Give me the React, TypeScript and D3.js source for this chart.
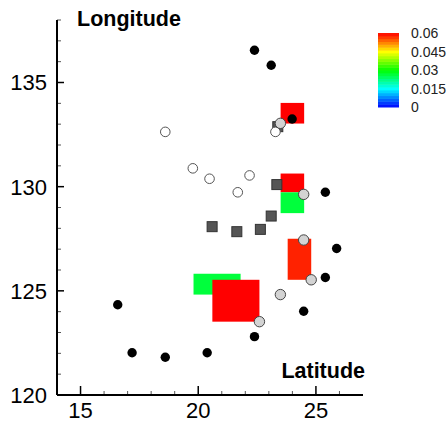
import { useEffect, useRef } from "react";
import * as d3 from "d3";

// marker data: [latitude, longitude]
const blackDots: [number, number][] = [
  [22.39, 136.55], [23.1, 135.83], [23.99, 133.25], [25.4, 129.73], [25.88, 127.03],
  [25.4, 125.64], [24.48, 124.02], [22.39, 122.8], [16.58, 124.33], [17.19, 122.03],
  [18.6, 121.81], [20.38, 122.03],
];
const openDots: [number, number][] = [
  [18.6, 132.63], [19.77, 130.88], [20.48, 130.38], [22.18, 130.54], [21.68, 129.73], [23.28, 132.63],
];
const grayDots: [number, number][] = [
  [23.49, 133.04], [24.48, 129.63], [24.48, 127.44], [24.8, 125.53], [23.49, 124.82], [22.6, 123.52],
];
const squares: [number, number][] = [
  [23.38, 132.88], [23.34, 130.1], [23.1, 128.59], [20.59, 128.08], [21.64, 127.84], [22.64, 127.95],
];
// colored cells: lat range, lon range, value
const cellLat: [number, number][] = [[23.5, 24.5], [23.5, 24.5], [23.5, 24.5], [23.8, 24.8], [19.8, 21.8], [20.6, 22.6]];
const cellLon: [number, number][] = [[133.03, 134.02], [129.73, 130.63], [128.73, 129.73], [125.53, 127.5], [124.82, 125.82], [123.52, 125.53]];
const cellValue = [0.06, 0.06, 0.0265, 0.058, 0.0265, 0.06];

const xTicks = [15, 20, 25];
const yTicks = [120, 125, 130, 135];
const legendTicks = [0, 0.015, 0.03, 0.045, 0.06];

const FONT = "Liberation Sans, Arial, Helvetica, sans-serif";

const App = () => {
  const ref = useRef<SVGSVGElement>(null);

  useEffect(() => {
    const svg = d3.select(ref.current);
    svg.selectAll("*").remove();

    const x = d3.scaleLinear().domain([14, 27]).range([57, 363]);
    const y = d3.scaleLinear().domain([120, 138]).range([395, 20]);

    const color = d3.scaleLinear<string>()
      .domain([0, 0.015, 0.03, 0.045, 0.06])
      .range(["#0000ff", "#00ffff", "#00ff00", "#ffff00", "#ff0000"]);

    // colored cells
    svg.append("g")
      .selectAll("rect")
      .data(cellValue.map((v, i) => ({ v, lat: cellLat[i], lon: cellLon[i] })))
      .enter()
      .append("rect")
      .attr("x", d => x(d.lat[0]))
      .attr("y", d => y(d.lon[1]))
      .attr("width", d => x(d.lat[1]) - x(d.lat[0]))
      .attr("height", d => y(d.lon[0]) - y(d.lon[1]))
      .attr("fill", d => color(d.v));

    svg.append("g")
      .selectAll("rect")
      .data(squares)
      .enter()
      .append("rect")
      .attr("x", d => x(d[0]) - 5)
      .attr("y", d => y(d[1]) - 5)
      .attr("width", 10)
      .attr("height", 10)
      .attr("fill", "#555555")
      .attr("stroke", "#333333")
      .attr("stroke-width", 1);

    svg.append("g")
      .selectAll("circle")
      .data(blackDots)
      .enter()
      .append("circle")
      .attr("cx", d => x(d[0]))
      .attr("cy", d => y(d[1]))
      .attr("r", 4.7)
      .attr("fill", "#000");

    svg.append("g")
      .selectAll("circle")
      .data(openDots)
      .enter()
      .append("circle")
      .attr("cx", d => x(d[0]))
      .attr("cy", d => y(d[1]))
      .attr("r", 4.8)
      .attr("fill", "#fff")
      .attr("stroke", "#555")
      .attr("stroke-width", 1);

    svg.append("g")
      .selectAll("circle")
      .data(grayDots)
      .enter()
      .append("circle")
      .attr("cx", d => x(d[0]))
      .attr("cy", d => y(d[1]))
      .attr("r", 5.2)
      .attr("fill", "#d3d3d3")
      .attr("stroke", "#444")
      .attr("stroke-width", 1);

    // axes
    const xAxis = svg.append("g").attr("transform", "translate(0,395)");
    xAxis.selectAll("line.minor")
      .data(d3.range(15, 27))
      .enter()
      .append("line")
      .attr("x1", d => x(d)).attr("x2", d => x(d))
      .attr("y1", 0).attr("y2", d => (xTicks.includes(d) ? -9 : -4))
      .attr("stroke", d => (xTicks.includes(d) ? "#000" : "#555"))
      .attr("stroke-width", d => (xTicks.includes(d) ? 1.5 : 1));
    xAxis.append("line")
      .attr("x1", x(14)).attr("x2", x(27))
      .attr("stroke", "#000").attr("stroke-width", 2);
    xAxis.selectAll("text")
      .data(xTicks)
      .enter()
      .append("text")
      .attr("x", d => x(d))
      .attr("y", 23)
      .attr("text-anchor", "middle")
      .style("font-family", FONT)
      .style("font-size", "22px")
      .text(d => d);

    const yAxis = svg.append("g").attr("transform", "translate(57,0)");
    yAxis.selectAll("line.minor")
      .data(d3.range(121, 139))
      .enter()
      .append("line")
      .attr("y1", d => y(d)).attr("y2", d => y(d))
      .attr("x1", 0).attr("x2", d => (yTicks.includes(d) ? 7 : 4))
      .attr("stroke", d => (yTicks.includes(d) ? "#000" : "#555"))
      .attr("stroke-width", d => (yTicks.includes(d) ? 1.5 : 1));
    yAxis.append("line")
      .attr("y1", y(120)).attr("y2", y(138))
      .attr("stroke", "#000").attr("stroke-width", 2);
    yAxis.selectAll("text")
      .data(yTicks)
      .enter()
      .append("text")
      .attr("x", -10)
      .attr("y", d => y(d))
      .attr("dy", "0.36em")
      .attr("text-anchor", "end")
      .style("font-family", FONT)
      .style("font-size", "22px")
      .text(d => d);

    svg.append("text")
      .attr("x", 77).attr("y", 26)
      .style("font-family", FONT).style("font-size", "21.5px").style("font-weight", "bold")
      .text("Longitude");
    svg.append("text")
      .attr("x", 365).attr("y", 378)
      .attr("text-anchor", "end")
      .style("font-family", FONT).style("font-size", "21.5px").style("font-weight", "bold")
      .text("Latitude");

    // color legend
    const ly = d3.scaleLinear().domain([0, 0.06]).range([107, 33]);
    const bands = 26;
    const step = 0.06 / bands;
    const legend = svg.append("g");
    legend.selectAll("rect")
      .data(d3.range(bands))
      .enter()
      .append("rect")
      .attr("x", 378)
      .attr("y", i => ly((i + 1) * step))
      .attr("width", 21)
      .attr("height", i => ly(i * step) - ly((i + 1) * step) + 0.5)
      .attr("fill", i => color((i + 0.5) * step));
    legend.selectAll("text")
      .data(legendTicks)
      .enter()
      .append("text")
      .attr("x", 411)
      .attr("y", d => ly(d))
      .attr("dy", "0.36em")
      .style("font-family", FONT)
      .style("font-size", "14px")
      .style("fill", "#222")
      .text(d => String(d));

    return () => {
      svg.selectAll("*").remove();
    };
  }, []);

  return (
    <svg
      ref={ref}
      width={448}
      height={426}
      style={{ position: "absolute", left: 0, top: 0, background: "#fff" }}
    />
  );
};

export default App;
